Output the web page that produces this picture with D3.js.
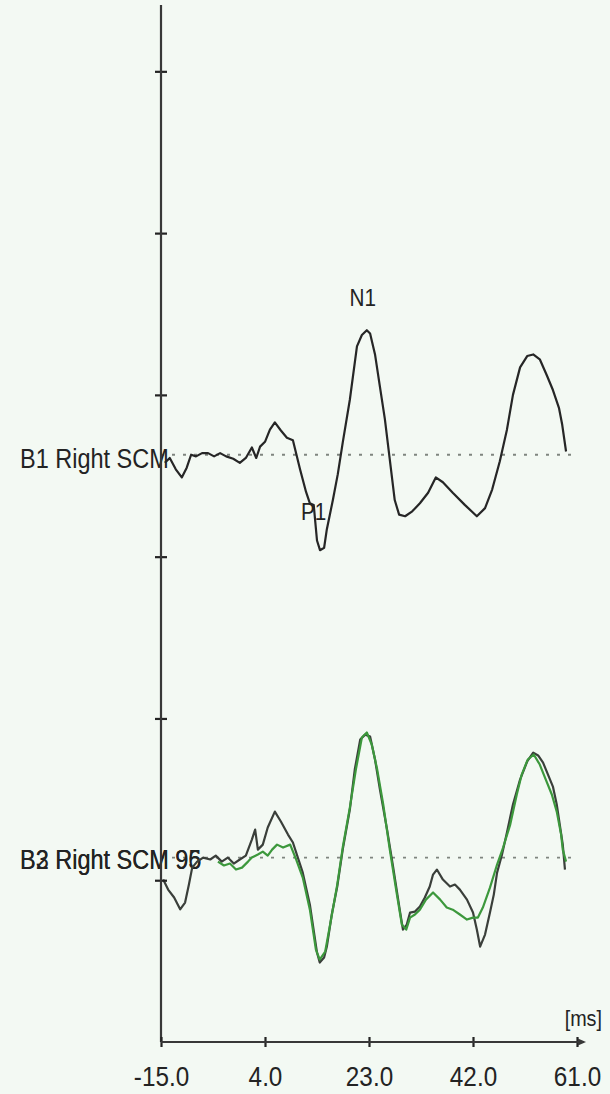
<!DOCTYPE html>
<html>
<head>
<meta charset="utf-8">
<script src="https://cdn.jsdelivr.net/npm/d3@7"></script>
<style>
  html, body { margin: 0; padding: 0; background: #f3f9f3; }
  svg { display: block; }
</style>
</head>
<body>
<svg id="chart" width="610" height="1094"></svg>
<script>
// Time axis (ms) and vertical grid ticks (µV, 10 µV per tick)
const timeTicks = [-15, 4, 23, 42, 61];
const ampTicks = [10, 20, 30, 40, 50, 60];

// Channel names and the baseline level each trace sits on (µV on the shared axis)
const upperLabels = ["B1 Right SCM"];
const lowerLabels = ["B2 Right SCM 96", "B3 Right SCM 95"];
const upperBaseline = 36.3;
const lowerBaseline = 11.4;

// B1 Right SCM: [time ms, amplitude µV]
const b1 = [
  [-14.3,-0.5],[-13.4,-0.2],[-12.3,-0.9],[-11.2,-1.4],[-10.3,-0.8],[-9.5,0],[-8.6,-0.1],
  [-7.5,0.1],[-6.4,0.1],[-5.3,-0.1],[-4.2,0.1],[-3.1,-0.1],[-1.8,-0.25],[-0.6,-0.5],
  [0.5,-0.2],[1.6,0.45],[2.4,-0.2],[3.1,0.5],[4.0,0.8],[4.9,1.55],[5.8,2.0],[6.9,1.5],
  [8.0,1.05],[9.1,0.9],[10.4,-0.9],[11.5,-2.3],[12.2,-3.0],[12.9,-3.1],[13.5,-5.3],
  [14.05,-5.9],[14.8,-5.75],[15.3,-4.6],[16.4,-2.8],[17.3,-1.2],[18.2,0.75],[19.5,3.4],
  [20.8,6.7],[21.7,7.4],[22.6,7.7],[23.2,7.5],[24.1,6.2],[25.0,4.2],[25.9,2.2],[26.8,-0.3],
  [27.7,-2.8],[28.5,-3.7],[29.6,-3.8],[30.9,-3.5],[32.3,-3.0],[33.8,-2.35],[35.2,-1.4],
  [36.5,-1.7],[38.3,-2.35],[40.5,-3.1],[42.7,-3.8],[44.2,-3.3],[45.5,-2.15],[46.9,-0.4],
  [48.2,1.55],[49.3,3.7],[50.6,5.4],[51.9,6.1],[53.0,6.2],[54.2,5.9],[55.5,4.9],[56.6,4.0],
  [57.7,2.9],[58.3,1.85],[59.0,0.2]
];

// B3 Right SCM 95 (dark trace)
const b3 = [
  [-14.6,-1.36],[-13.7,-1.98],[-12.6,-2.47],[-11.5,-3.2],[-10.6,-2.78],[-9.9,-1.67],[-9.3,-0.62],
  [-8.4,-0.25],[-7.3,0],[-6.0,-0.12],[-5.0,0.12],[-3.9,-0.25],[-2.8,0],[-1.7,-0.37],[-0.6,-0.12],
  [0.5,0.12],[1.6,1.11],[2.2,1.73],[2.7,0.49],[3.6,0.8],[4.5,1.86],[5.8,2.84],[6.9,2.23],
  [8.2,1.42],[9.1,0.93],[10.0,0],[10.9,-0.93],[12.2,-2.91],[13.5,-5.87],[14.0,-6.49],
  [14.8,-6.18],[15.3,-5.5],[16.2,-3.52],[17.2,-1.79],[18.2,0.49],[19.5,2.97],[20.4,5.44],
  [21.4,7.3],[22.3,7.6],[23.2,7.48],[24.1,6.06],[25.0,4.2],[26.3,1.73],[27.4,-0.56],
  [28.7,-3.4],[29.2,-4.45],[29.9,-4.14],[30.5,-3.4],[31.4,-3.34],[32.3,-3.03],[33.2,-2.47],
  [34.1,-1.79],[34.7,-1.05],[35.4,-0.74],[36.5,-1.36],[37.8,-1.79],[38.7,-1.67],[39.6,-1.98],
  [40.9,-2.6],[42.0,-3.4],[42.7,-4.45],[43.3,-5.5],[44.2,-4.76],[45.1,-3.4],[45.8,-2.29],
  [46.4,-0.93],[47.3,0.19],[48.2,1.55],[49.3,3.28],[50.6,4.82],[51.9,5.94],[53.0,6.49],
  [53.9,6.31],[54.8,5.87],[55.7,5.13],[56.6,4.39],[57.3,3.28],[57.9,1.92],[58.4,0.8],[58.8,-0.74]
];

// B2 Right SCM 96 (green trace)
const b2 = [
  [-4.6,-0.25],[-3.5,-0.49],[-2.4,-0.37],[-1.3,-0.74],[-0.2,-0.62],[0.9,-0.25],[1.6,0],
  [2.7,0.19],[3.6,0.37],[4.5,0.12],[5.3,0.49],[6.2,0.8],[7.3,0.62],[8.6,0.8],[9.7,-0.12],
  [10.9,-1.24],[12.2,-3.22],[13.3,-5.69],[14.0,-6.31],[15.0,-5.81],[15.9,-4.14],[17.2,-1.67],
  [18.2,0.62],[19.5,3.09],[20.6,5.44],[21.7,7.42],[22.6,7.73],[23.5,6.99],[24.5,5.44],
  [25.6,3.28],[26.8,0.49],[28.1,-2.29],[29.0,-4.14],[29.8,-4.45],[30.5,-3.71],[31.4,-3.52],
  [32.3,-3.22],[33.4,-2.6],[34.7,-2.16],[36.0,-2.6],[37.2,-3.09],[38.3,-3.22],[39.6,-3.52],
  [40.9,-3.83],[42.0,-3.71],[42.9,-3.71],[43.8,-3.09],[45.1,-1.86],[46.4,-0.43],[47.5,0.62],
  [48.8,2.04],[50.0,3.9],[50.9,5.13],[52.0,6.06],[53.1,6.37],[54.2,5.75],[55.3,4.82],
  [56.4,3.9],[57.3,2.84],[58.1,1.42],[58.4,0.49],[59.0,-0.25]
];

// Marked components on B1
const peaks = [
  { name: "P1", t: 12.9, v: -3.1, dx: 0, dy: 15 },
  { name: "N1", t: 22.6, v: 7.7, dx: -4, dy: -24 }
];

const FONT = "'Liberation Sans', Arial, sans-serif";
const INK = "#232323";

const svg = d3.select("#chart");
const W = 610, H = 1094;

svg.append("rect").attr("width", W).attr("height", H).attr("fill", "#f3f9f3");

const x = d3.scaleLinear().domain([-15, 61]).range([161, 577]);
const y = d3.scaleLinear().domain([0, 64.1]).range([1042, 5]);

// Dotted baselines
const baseEnd = 60.5;
[upperBaseline, lowerBaseline].forEach(b => {
  svg.append("line")
    .attr("x1", x(-15)).attr("x2", x(baseEnd))
    .attr("y1", y(b)).attr("y2", y(b))
    .attr("stroke", "#7f857f").attr("stroke-width", 1.8)
    .attr("stroke-dasharray", "3,8");
});

// Channel labels
function label(text, baseline, dyPx) {
  svg.append("text")
    .attr("transform", `translate(20,${y(baseline) + dyPx}) scale(0.87,1)`)
    .attr("font-family", FONT).attr("font-size", 27)
    .attr("fill", INK).text(text);
}
upperLabels.forEach(t => label(t, upperBaseline, 13));
lowerLabels.forEach(t => label(t, lowerBaseline, 11));

// Traces
const line = base => d3.line().x(d => x(d[0])).y(d => y(base + d[1]));

svg.append("path").datum(b1)
  .attr("d", line(upperBaseline))
  .attr("fill", "none").attr("stroke", "#262626").attr("stroke-width", 2.2)
  .attr("stroke-linejoin", "round");

svg.append("path").datum(b3)
  .attr("d", line(lowerBaseline))
  .attr("fill", "none").attr("stroke", "#3a3f3a").attr("stroke-width", 2.2)
  .attr("stroke-linejoin", "round");

svg.append("path").datum(b2)
  .attr("d", line(lowerBaseline))
  .attr("fill", "none").attr("stroke", "#3c983c").attr("stroke-width", 2.2)
  .attr("stroke-linejoin", "round");

// Component markers
svg.selectAll("text.peak").data(peaks).join("text")
  .attr("class", "peak")
  .attr("transform", d => `translate(${x(d.t) + d.dx},${y(upperBaseline + d.v) + d.dy}) scale(0.9,1)`)
  .attr("text-anchor", "middle")
  .attr("font-family", FONT).attr("font-size", 23)
  .attr("fill", INK).text(d => d.name);

// Vertical axis
const yAxis = svg.append("g")
  .attr("transform", `translate(${x(-15)},0)`)
  .call(d3.axisLeft(y).tickValues(ampTicks).tickFormat("").tickSizeOuter(0));
yAxis.select(".domain").remove();
yAxis.selectAll(".tick line")
  .attr("x1", -6).attr("x2", 6)
  .attr("stroke", INK).attr("stroke-width", 2.2);
svg.append("line")
  .attr("x1", x(-15)).attr("x2", x(-15))
  .attr("y1", y(64.1)).attr("y2", y(0))
  .attr("stroke", "#383838").attr("stroke-width", 2.2);

// Horizontal time axis
const xAxis = svg.append("g")
  .attr("transform", `translate(0,${y(0)})`)
  .call(d3.axisBottom(x).tickValues(timeTicks).tickFormat(d => d.toFixed(1)).tickSizeOuter(0));
xAxis.select(".domain").remove();
xAxis.selectAll(".tick line")
  .attr("y1", -5).attr("y2", 5)
  .attr("stroke", INK).attr("stroke-width", 2.2);
xAxis.selectAll(".tick text")
  .attr("y", 44).attr("dy", null)
  .attr("transform", "scale(0.9,1)")
  .attr("font-family", FONT).attr("font-size", 27)
  .attr("fill", INK);

const axisEnd = x(61) + 7;
svg.append("line")
  .attr("x1", x(-15)).attr("x2", axisEnd)
  .attr("y1", y(0)).attr("y2", y(0))
  .attr("stroke", "#383838").attr("stroke-width", 2.2);
svg.append("path")
  .attr("d", `M${axisEnd + 2},${y(0)} l-8,-3.5 l0,7 z`)
  .attr("fill", "#383838");

// Unit label
svg.append("text")
  .attr("transform", `translate(602,${y(0) - 16}) scale(0.9,1)`)
  .attr("text-anchor", "end")
  .attr("font-family", FONT).attr("font-size", 22)
  .attr("fill", INK).text("[ms]");
</script>
</body>
</html>
